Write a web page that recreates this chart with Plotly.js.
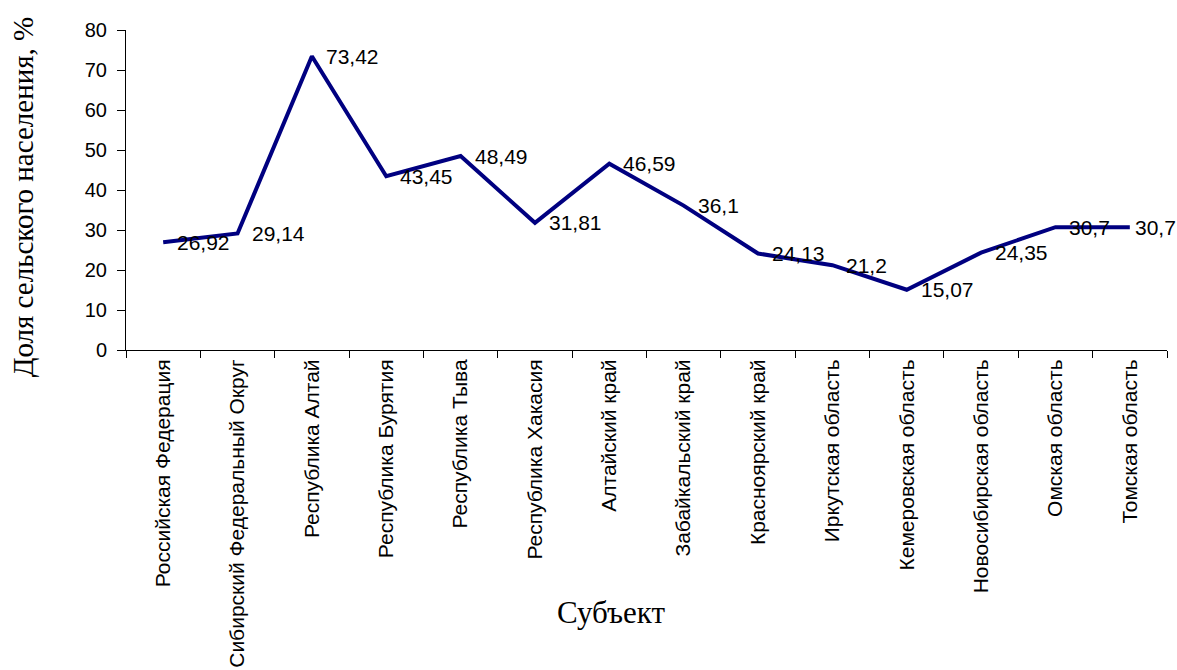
<!DOCTYPE html>
<html>
<head>
<meta charset="utf-8">
<script src="https://cdn.plot.ly/plotly-3.0.1.min.js"></script>
<style>html,body{margin:0;padding:0;background:#fff;}#chart{width:1177px;height:670px;}</style>
</head>
<body>
<div id="chart"></div>
<script>
const categories = [
  "Российская Федерация",
  "Сибирский Федеральный Округ",
  "Республика Алтай",
  "Республика Бурятия",
  "Республика Тыва",
  "Республика Хакасия",
  "Алтайский край",
  "Забайкальский край",
  "Красноярский край",
  "Иркутская область",
  "Кемеровская область",
  "Новосибирская область",
  "Омская область",
  "Томская область"
];
const ruralShare = [26.92, 29.14, 73.42, 43.45, 48.49, 31.81, 46.59, 36.1, 24.13, 21.2, 15.07, 24.35, 30.7, 30.7];
const yTicks = [0, 10, 20, 30, 40, 50, 60, 70, 80];
const yTitle = "Доля сельского населения, %";
const xTitle = "Субъект";

const sans = "'Liberation Sans', Arial, sans-serif";
const serif = "'Liberation Serif', 'Times New Roman', serif";

const trace = {
  x: categories,
  y: ruralShare,
  type: 'scatter',
  mode: 'lines',
  line: {color: '#000080', width: 4},
  hoverinfo: 'x+y'
};

const labelAnnotations = ruralShare.map((v, i) => ({
  x: categories[i],
  y: v,
  xref: 'x', yref: 'y',
  text: String(v).replace('.', ','),
  showarrow: false,
  xanchor: 'left',
  yanchor: 'middle',
  xshift: i === ruralShare.length - 1 ? 3 : 12,
  font: {family: sans, size: 21, color: '#000'}
}));

const layout = {
  width: 1177,
  height: 670,
  margin: {l: 126, r: 10, t: 30, b: 320},
  paper_bgcolor: '#fff',
  plot_bgcolor: '#fff',
  showlegend: false,
  font: {family: sans, size: 20, color: '#000'},
  xaxis: {
    type: 'category',
    range: [-0.5, 13.5],
    tickson: 'boundaries',
    ticks: 'outside',
    ticklen: 7,
    tickcolor: '#000',
    tickangle: -90,
    showline: true,
    linecolor: '#000',
    linewidth: 1,
    showgrid: false,
    zeroline: false,
    automargin: false,
    tickfont: {family: sans, size: 21, color: '#000'}
  },
  yaxis: {
    range: [0, 80],
    tickvals: yTicks,
    ticktext: yTicks.map(String),
    ticks: 'outside',
    ticklen: 8,
    tickcolor: '#000',
    ticklabelstandoff: 6,
    showline: true,
    linecolor: '#000',
    linewidth: 1,
    showgrid: false,
    zeroline: false,
    automargin: false,
    tickfont: {family: sans, size: 20, color: '#000'}
  },
  annotations: labelAnnotations.concat([
    {
      text: yTitle,
      xref: 'paper', yref: 'paper',
      x: -0.099, y: 0.48,
      xanchor: 'center', yanchor: 'middle',
      textangle: -90,
      showarrow: false,
      font: {family: serif, size: 29, color: '#000'}
    },
    {
      text: xTitle,
      xref: 'paper', yref: 'paper',
      x: 0.466, y: -0.82,
      xanchor: 'center', yanchor: 'middle',
      showarrow: false,
      font: {family: serif, size: 31, color: '#000'}
    }
  ])
};

Plotly.newPlot('chart', [trace], layout, {staticPlot: true, displayModeBar: false});
</script>
</body>
</html>
